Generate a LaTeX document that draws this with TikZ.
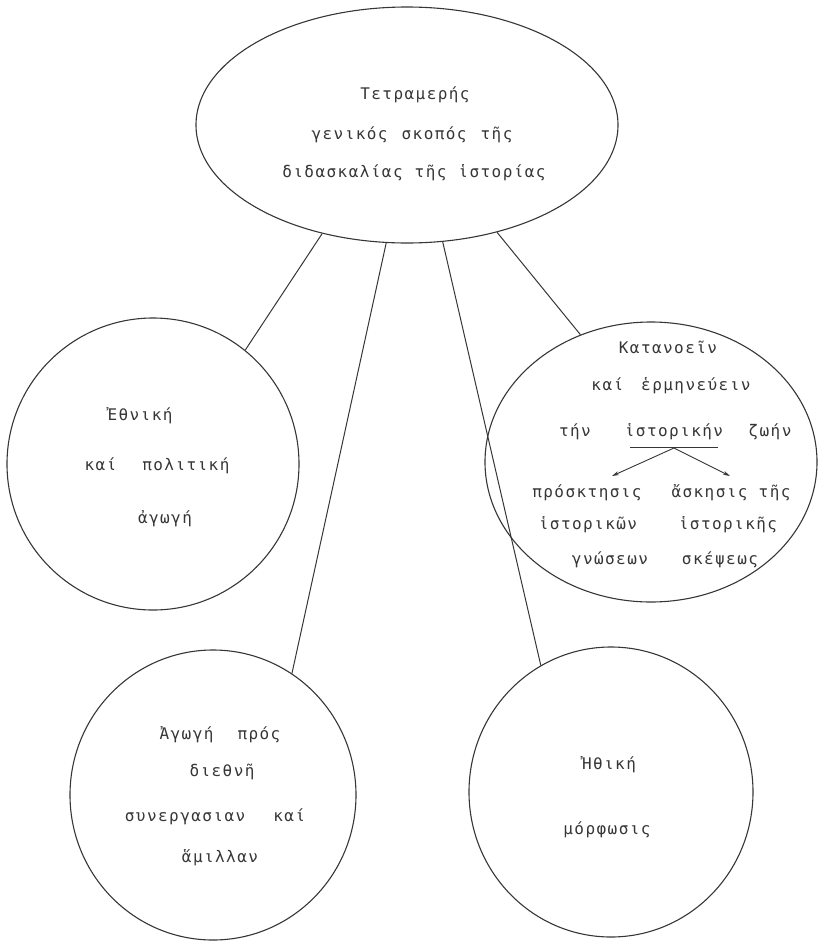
\documentclass[tikz,border=0pt]{standalone}
\usepackage{fontspec}
\setmainfont{DejaVu Sans Mono}[LetterSpace=9]
\usetikzlibrary{shapes.geometric,arrows.meta}
\definecolor{ink}{HTML}{363636}
\newcommand{\gp}[1]{\hspace*{#1pt}}
\begin{document}
\begin{tikzpicture}[x=1pt,y=-1pt,
  bubble/.style={ellipse,draw=ink,line width=1.1pt,inner sep=0pt},
  lbl/.style={text=ink,font=\fontsize{16}{19}\selectfont,inner sep=0pt,anchor=center},
  link/.style={draw=ink,line width=1pt},
  ptr/.style={draw=ink,line width=0.9pt,-{Stealth[length=7pt,width=4pt]}}]
\useasboundingbox (0,0) rectangle (821,943);
% circles
\node[bubble,minimum width=422pt,minimum height=236pt] (top) at (407,125) {};
\node[bubble,minimum width=292pt,minimum height=292pt] (nat) at (153,464) {};
\node[bubble,minimum width=332pt,minimum height=280pt] (und) at (651,462) {};
\node[bubble,minimum width=286pt,minimum height=290pt] (intl) at (213,795) {};
\node[bubble,minimum width=284pt,minimum height=290pt] (eth) at (611,792) {};
% connectors
\draw[link] (top.232.5) -- (nat.51.8);
\draw[link] (top.260.4) -- (intl.57.8);
\draw[link] (top.287) -- (eth.119.3);
\draw[link] (top.310) -- (und.119.5);
% top texts
\node[lbl] (t1) at (415,95) {Τετραμερής};
\node[lbl] (t2) at (412,135) {γενικός\gp{14}σκοπός\gp{14}τῆς};
\node[lbl] (t3) at (414,173) {διδασκαλίας\gp{12}τῆς\gp{12}ἱστορίας};
% left
\node[lbl] (n1) at (140,416) {Ἐθνική};
\node[lbl] (n2) at (157,466) {καί\gp{26}πολιτική};
\node[lbl] (n3) at (165,519) {ἀγωγή};
% right
\node[lbl] (u1) at (668,347) {Κατανοεῖν};
\node[lbl] (u2) at (671,386) {καί\gp{18}ἑρμηνεύειν};
\node[lbl] (u3a) at (575,432) {τήν};
\node[lbl] (u3b) at (674,432) {ἱστορικήν};
\node[lbl] (u3c) at (770,432) {ζωήν};
\coordinate (ulL) at (630,447);
\coordinate (ulR) at (718,447);
\coordinate (fork) at (674,448);
\coordinate (arL) at (612,476);
\coordinate (arR) at (730,476);
\draw[link,line width=0.8pt] (ulL) -- (ulR);
\draw[ptr] (fork) -- (arL);
\draw[ptr] (fork) -- (arR);
\node[lbl] (u4) at (587,493) {πρόσκτησις};
\node[lbl] (u5) at (731,493) {ἄσκησις τῆς};
\node[lbl] (u6) at (588,525) {ἱστορικῶν};
\node[lbl] (u7) at (728,525) {ἱστορικῆς};
\node[lbl] (u8) at (610,560) {γνώσεων};
\node[lbl] (u9) at (720,560) {σκέψεως};
% bottom left
\node[lbl] (i1) at (220,735) {Ἀγωγή\gp{24}πρός};
\node[lbl] (i2) at (222,772) {διεθνῆ};
\node[lbl] (i3) at (215,817) {συνεργασιαν\gp{28}καί};
\node[lbl] (i4) at (220,858) {ἅμιλλαν};
% bottom right
\node[lbl] (e1) at (609,765) {Ἠθική};
\node[lbl] (e2) at (607,830) {μόρφωσις};
\end{tikzpicture}
\end{document}
